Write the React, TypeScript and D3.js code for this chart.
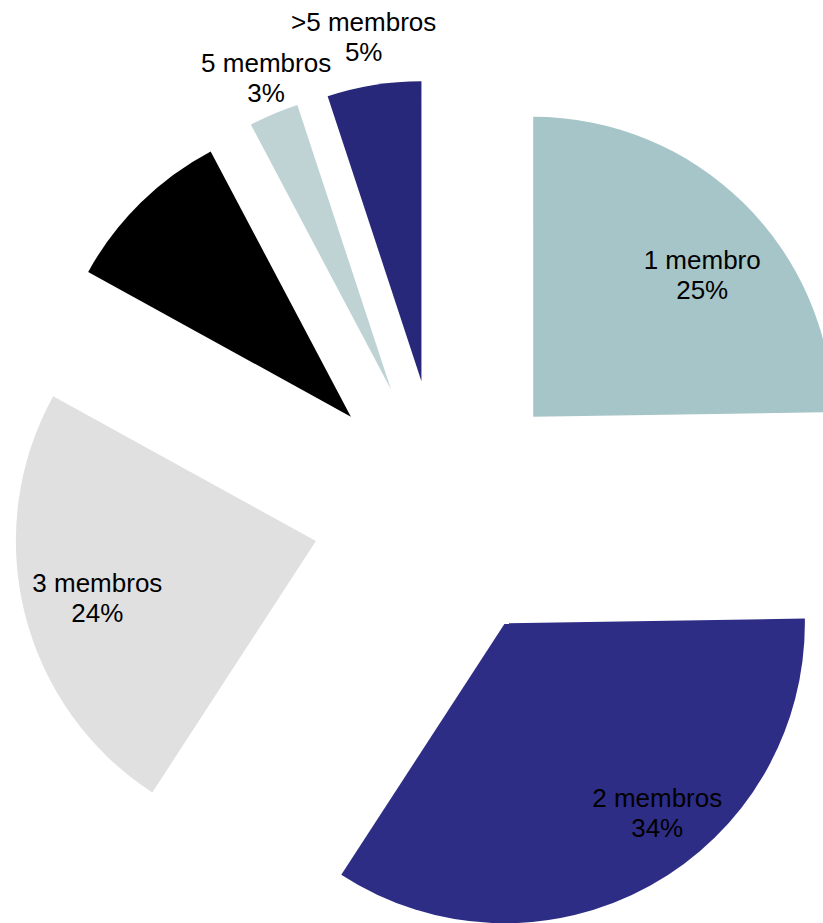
import React from "react";
import * as d3 from "d3";

const categories = ["1 membro", "2 membros", "3 membros", "4 membros", "5 membros", ">5 membros"];
const values = [24.75, 34.43, 23.84, 9.24, 2.68, 5.06];
const showLabel = [true, true, true, false, true, true];
const colors = ["#a6c5c8", "#2e2d86", "#e0e0e0", "#000000", "#bfd3d5", "#28287a"];

// label placement: angle nudge from slice bisector (deg) and radius factor
const labelNudgeDeg = [5.3, -9.9, -0.6, 0, 1.2, -0.4];
const labelRadiusFactor = [0.737, 0.81, 0.753, 0.75, 1.12, 1.165];

const W = 823;
const H = 923;
const CX = 442;
const CY = 509.5;
const R = 300;
const EXPLODE = 130;

export default function App() {
  const total = d3.sum(values);
  const pie = d3
    .pie<number>()
    .sort(null)
    .value((d) => d)
    .startAngle(0)
    .endAngle(2 * Math.PI);
  const arcs = pie(values);
  const arcGen = d3.arc<d3.PieArcDatum<number>>().innerRadius(0).outerRadius(R);

  return (
    <svg
      width={W}
      height={H}
      style={{ position: "absolute", left: 0, top: 0, background: "#ffffff" }}
      fontFamily="'Liberation Sans', Arial, sans-serif"
    >
      <rect x={0} y={0} width={W} height={H} fill="#ffffff" />
      <g transform={`translate(${CX},${CY})`}>
        {arcs.map((a, i) => {
          const mid = (a.startAngle + a.endAngle) / 2;
          const ox = EXPLODE * Math.sin(mid);
          const oy = -EXPLODE * Math.cos(mid);
          return (
            <g key={i} transform={`translate(${ox},${oy})`}>
              <path d={arcGen(a) as string} fill={colors[i]} />
            </g>
          );
        })}
        {arcs.map((a, i) => {
          if (!showLabel[i]) return null;
          const mid = (a.startAngle + a.endAngle) / 2;
          const ox = EXPLODE * Math.sin(mid);
          const oy = -EXPLODE * Math.cos(mid);
          const la = mid + (labelNudgeDeg[i] * Math.PI) / 180;
          const lr = R * labelRadiusFactor[i];
          const lx = ox + lr * Math.sin(la);
          const ly = oy - lr * Math.cos(la);
          const pct = Math.round((values[i] / total) * 100) + "%";
          return (
            <text key={"l" + i} x={lx} y={ly} textAnchor="middle" fontSize={26} fill="#000000">
              <tspan x={lx} dy={-5.7}>
                {categories[i]}
              </tspan>
              <tspan x={lx} dy={30}>
                {pct}
              </tspan>
            </text>
          );
        })}
      </g>
    </svg>
  );
}
